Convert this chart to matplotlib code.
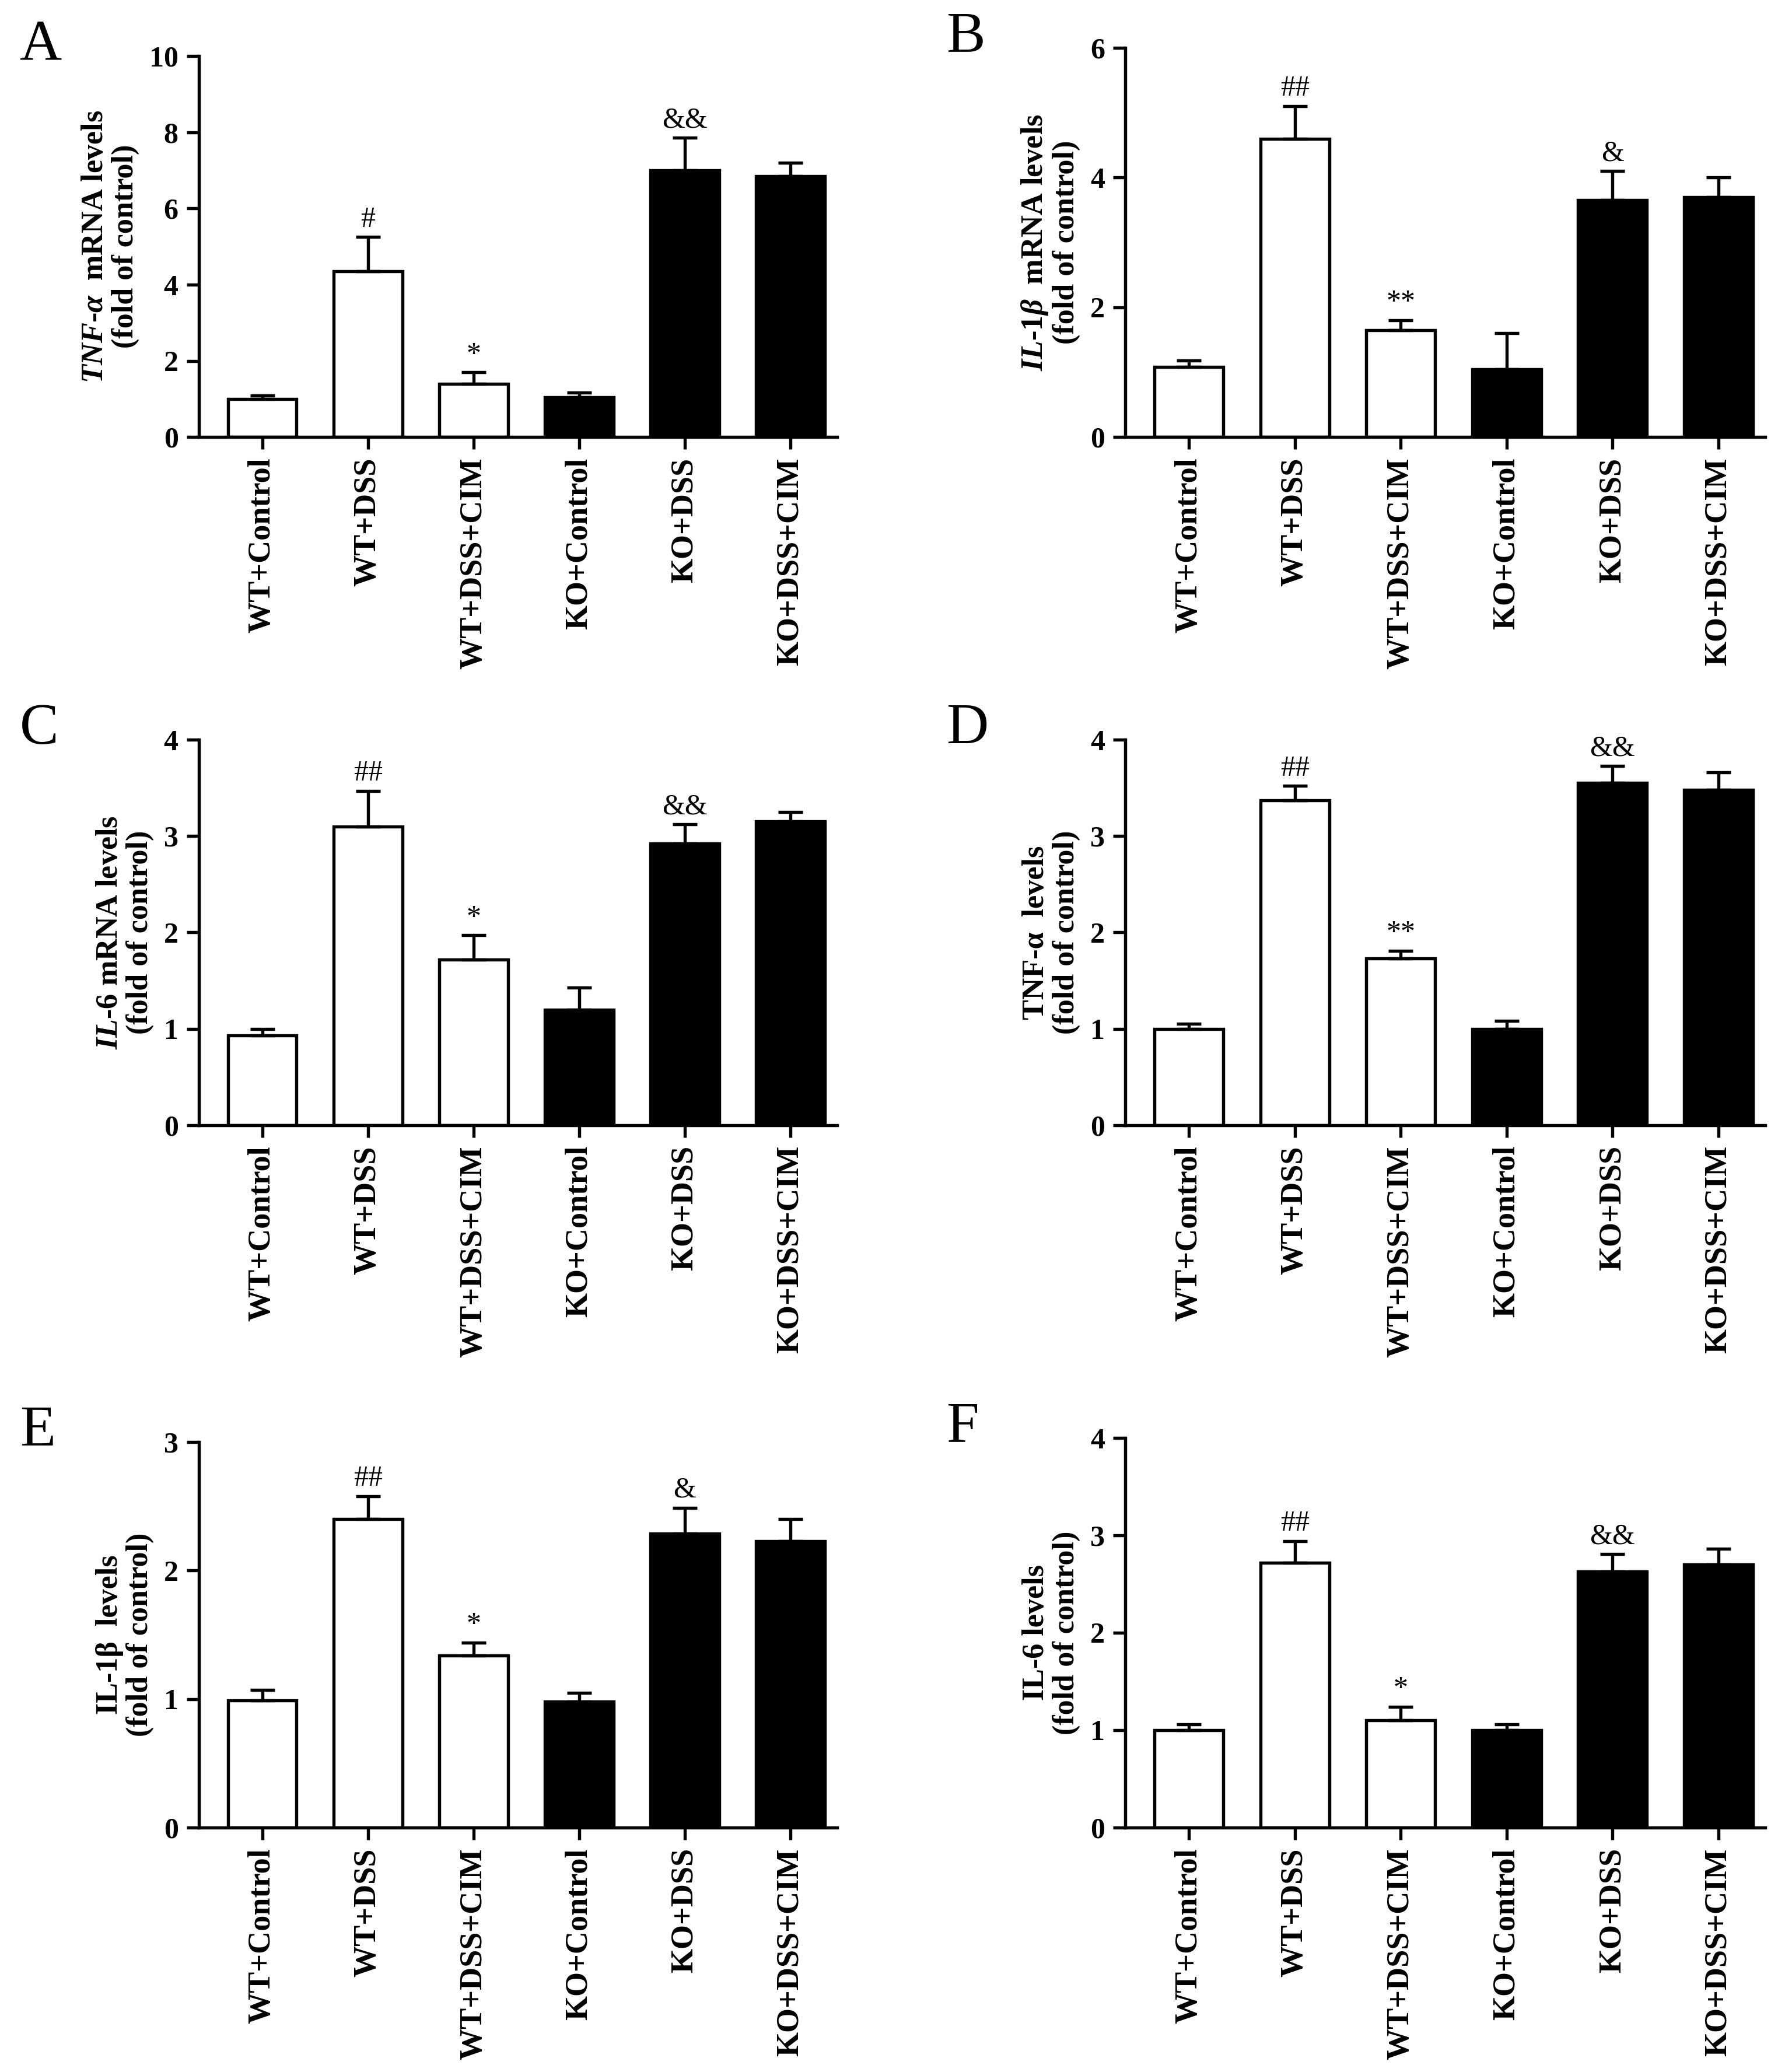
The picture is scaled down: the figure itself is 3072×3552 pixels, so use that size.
import matplotlib
matplotlib.use('Agg')
import matplotlib.pyplot as plt
import numpy as np

plt.rcParams['font.family'] = 'Liberation Serif'
plt.rcParams['mathtext.fontset'] = 'custom'
plt.rcParams['mathtext.it'] = 'Liberation Serif:italic:bold'
plt.rcParams['mathtext.rm'] = 'Liberation Serif:bold'
plt.rcParams['mathtext.bf'] = 'Liberation Serif:bold'

groups = ['WT+Control', 'WT+DSS', 'WT+DSS+CIM', 'KO+Control', 'KO+DSS', 'KO+DSS+CIM']
colors = ['white', 'white', 'white', 'black', 'black', 'black']

tnf_mrna = [1.0, 4.35, 1.4, 1.05, 7.0, 6.85]
tnf_mrna_err = [0.1, 0.9, 0.3, 0.12, 0.85, 0.35]
il1b_mrna = [1.08, 4.6, 1.65, 1.05, 3.65, 3.7]
il1b_mrna_err = [0.1, 0.5, 0.15, 0.55, 0.45, 0.3]
il6_mrna = [0.93, 3.1, 1.72, 1.2, 2.92, 3.15]
il6_mrna_err = [0.07, 0.37, 0.25, 0.23, 0.2, 0.1]
tnf_prot = [1.0, 3.37, 1.73, 1.0, 3.55, 3.48]
tnf_prot_err = [0.05, 0.15, 0.08, 0.08, 0.18, 0.18]
il1b_prot = [0.99, 2.4, 1.34, 0.98, 2.29, 2.23]
il1b_prot_err = [0.08, 0.18, 0.1, 0.07, 0.2, 0.17]
il6_prot = [1.0, 2.72, 1.1, 1.0, 2.63, 2.7]
il6_prot_err = [0.06, 0.22, 0.14, 0.06, 0.18, 0.16]

panels = [
    ('A', tnf_mrna, tnf_mrna_err, r'$TNF$-$\alpha$  mRNA levels', 10, 2, ['', '#', '*', '', '&&', '']),
    ('B', il1b_mrna, il1b_mrna_err, r'$IL$-$1\beta$  mRNA levels', 6, 2, ['', '##', '**', '', '&', '']),
    ('C', il6_mrna, il6_mrna_err, r'$IL$-$6$ mRNA levels', 4, 1, ['', '##', '*', '', '&&', '']),
    ('D', tnf_prot, tnf_prot_err, 'TNF-α  levels', 4, 1, ['', '##', '**', '', '&&', '']),
    ('E', il1b_prot, il1b_prot_err, 'IL-1β  levels', 3, 1, ['', '##', '*', '', '&', '']),
    ('F', il6_prot, il6_prot_err, 'IL-6 levels', 4, 1, ['', '##', '*', '', '&&', '']),
]

rects = [
    [0.111, 0.789, 0.356, 0.184],
    [0.628, 0.789, 0.357, 0.188],
    [0.111, 0.457, 0.356, 0.186],
    [0.628, 0.457, 0.357, 0.186],
    [0.111, 0.118, 0.356, 0.186],
    [0.628, 0.118, 0.357, 0.188],
]

fig = plt.figure(figsize=(10.24, 11.84), dpi=300)
x = np.arange(len(groups))
for (letter, vals, err, ylab, ymax, step, marks), r in zip(panels, rects):
    ax = fig.add_axes(r)
    ax.bar(x, vals, width=0.65, color=colors, edgecolor='black', linewidth=1.3)
    ax.errorbar(x, vals, yerr=[np.zeros(len(err)), err], fmt='none', ecolor='black',
                elinewidth=1.3, capsize=5, capthick=1.3)
    for xi, v, e, m in zip(x, vals, err, marks):
        if m:
            ax.text(xi, v + e + ymax * 0.01, m, ha='center', va='bottom', fontsize=12)
    ax.set_xlim(-0.6, 5.44)
    ax.set_ylim(0, ymax)
    ax.set_yticks(np.arange(0, ymax + 0.01, step))
    ax.set_xticks(x)
    ax.set_xticklabels(groups, rotation=90, fontsize=13, fontweight='bold')
    ax.tick_params(axis='y', labelsize=12, width=1.3, length=5)
    ax.tick_params(axis='x', width=1.3, length=5)
    for lab in ax.get_yticklabels():
        lab.set_fontweight('bold')
    ax.set_ylabel(ylab + '\n(fold of control)', fontsize=12.5, fontweight='bold', linespacing=1.1)
    ax.spines['top'].set_visible(False)
    ax.spines['right'].set_visible(False)
    ax.spines['left'].set_linewidth(1.3)
    ax.spines['bottom'].set_linewidth(1.3)
    fig.text(r[0] - 0.1, r[1] + r[3] + 0.005, letter, fontsize=24, va='center')

fig.savefig('out.png', dpi=300)
